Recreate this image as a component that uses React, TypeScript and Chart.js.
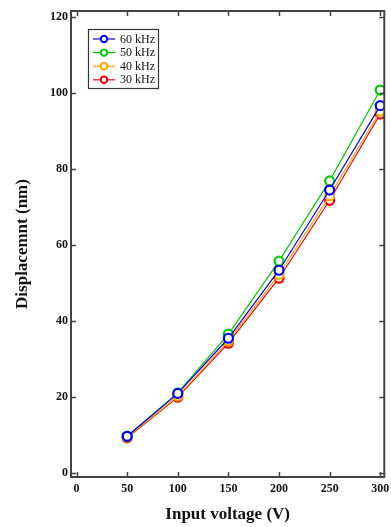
import React, { useEffect, useRef } from "react";
import { Chart, registerables } from "chart.js";

Chart.register(...registerables);

const voltages = [50, 100, 150, 200, 250, 300];
const khz60 = [9.7, 21.0, 35.5, 53.4, 74.5, 96.7];
const khz50 = [9.7, 21.1, 36.6, 55.8, 76.9, 100.8];
const khz40 = [9.5, 20.3, 34.8, 52.3, 73.0, 95.3];
const khz30 = [9.3, 20.0, 34.2, 51.3, 71.8, 94.5];
const seriesLabels = ["60 kHz", "50 kHz", "40 kHz", "30 kHz"];
const seriesColors = ["#0000ff", "#00cc00", "#ffa500", "#ff0000"];
const xTicks = [0, 50, 100, 150, 200, 250, 300];
const yTicks = [0, 20, 40, 60, 80, 100, 120];

const FONT = "'Liberation Serif', 'Times New Roman', serif";
const FRAME = "#444444";

const framePlugin = {
  id: "frameTicks",
  afterDraw(chart: any) {
    const { ctx, chartArea } = chart;
    const { left, right, top, bottom } = chartArea;
    const xs = chart.scales.x;
    const ys = chart.scales.y;
    const len = 5;
    ctx.save();
    ctx.strokeStyle = FRAME;
    ctx.lineWidth = 2;
    ctx.strokeRect(left, top, right - left, bottom - top);
    ctx.lineWidth = 1.5;
    ctx.beginPath();
    xTicks.forEach((v) => {
      const px = Math.round(xs.getPixelForValue(v)) + 0.5;
      ctx.moveTo(px, bottom);
      ctx.lineTo(px, bottom - len);
      ctx.moveTo(px, top);
      ctx.lineTo(px, top + len);
    });
    yTicks.forEach((v) => {
      const py = Math.round(ys.getPixelForValue(v)) + 0.5;
      ctx.moveTo(left, py);
      ctx.lineTo(left + len, py);
      ctx.moveTo(right, py);
      ctx.lineTo(right - len, py);
    });
    ctx.stroke();

    // legend box
    const bx = 88.5, by = 29.5, bw = 70, bh = 59;
    ctx.fillStyle = "#ffffff";
    ctx.fillRect(bx, by, bw, bh);
    ctx.strokeStyle = "#333333";
    ctx.lineWidth = 1.2;
    ctx.strokeRect(bx, by, bw, bh);
    chart.data.datasets.forEach((ds: any, i: number) => {
      const cy = 39 + i * 13.6;
      ctx.strokeStyle = ds.borderColor;
      ctx.lineWidth = 1.2;
      ctx.beginPath();
      ctx.moveTo(93, cy);
      ctx.lineTo(115, cy);
      ctx.stroke();
      ctx.beginPath();
      ctx.arc(104, cy, 3.2, 0, Math.PI * 2);
      ctx.fillStyle = "#ffffff";
      ctx.fill();
      ctx.lineWidth = 2;
      ctx.stroke();
      ctx.fillStyle = "#111111";
      ctx.font = `12px ${FONT}`;
      ctx.textAlign = "left";
      ctx.textBaseline = "middle";
      ctx.fillText(ds.label, 120, cy + 0.5);
    });
    ctx.restore();
  },
};

export default function App() {
  const ref = useRef<HTMLCanvasElement>(null);
  useEffect(() => {
    if (!ref.current) return;
    const all = [khz60, khz50, khz40, khz30];
    const chart = new Chart(ref.current, {
      type: "line",
      data: {
        datasets: all.map((vals, i) => ({
          label: seriesLabels[i],
          data: voltages.map((v, j) => ({ x: v, y: vals[j] })),
          borderColor: seriesColors[i],
          backgroundColor: "#ffffff",
          pointBackgroundColor: "#ffffff",
          pointBorderColor: seriesColors[i],
          pointRadius: 4.5,
          pointBorderWidth: 2.2,
          borderWidth: 1.2,
          tension: 0,
        })),
      },
      options: {
        animation: false,
        responsive: true,
        maintainAspectRatio: false,
        layout: { padding: { top: 11, right: 5, left: 0, bottom: 0 } },
        plugins: { legend: { display: false }, tooltip: { enabled: false } },
        scales: {
          x: {
            type: "linear",
            min: -5.5,
            max: 304,
            afterBuildTicks: (s: any) => {
              s.ticks = xTicks.map((v) => ({ value: v }));
            },
            afterFit: (s: any) => {
              s.height = 50;
              s.paddingLeft = 0;
              s.paddingRight = 0;
            },
            grid: { display: false, drawTicks: false },
            border: { display: false },
            ticks: {
              padding: 5,
              color: "#111111",
              font: { family: FONT, size: 12, weight: "bold" },
              maxRotation: 0,
            },
            title: {
              display: true,
              text: "Input voltage (V)",
              color: "#111111",
              font: { family: FONT, size: 17, weight: "bold" },
              padding: { top: 0, bottom: 2 },
            },
          },
          y: {
            type: "linear",
            min: -1,
            max: 121.6,
            afterBuildTicks: (s: any) => {
              s.ticks = yTicks.map((v) => ({ value: v }));
            },
            afterFit: (s: any) => {
              s.width = 71;
              s.paddingTop = 0;
              s.paddingBottom = 0;
            },
            grid: { display: false, drawTicks: false },
            border: { display: false },
            ticks: {
              padding: 3,
              color: "#111111",
              font: { family: FONT, size: 12, weight: "bold" },
            },
            title: {
              display: true,
              text: "Displacemnt (nm)",
              color: "#111111",
              font: { family: FONT, size: 17, weight: "bold" },
              padding: { top: 12, bottom: 0 },
            },
          },
        },
      },
      plugins: [framePlugin],
    });
    return () => chart.destroy();
  }, []);
  return (
    <div style={{ position: "fixed", left: 0, top: 0, width: 391, height: 527, background: "#fff" }}>
      <canvas ref={ref} />
    </div>
  );
}
